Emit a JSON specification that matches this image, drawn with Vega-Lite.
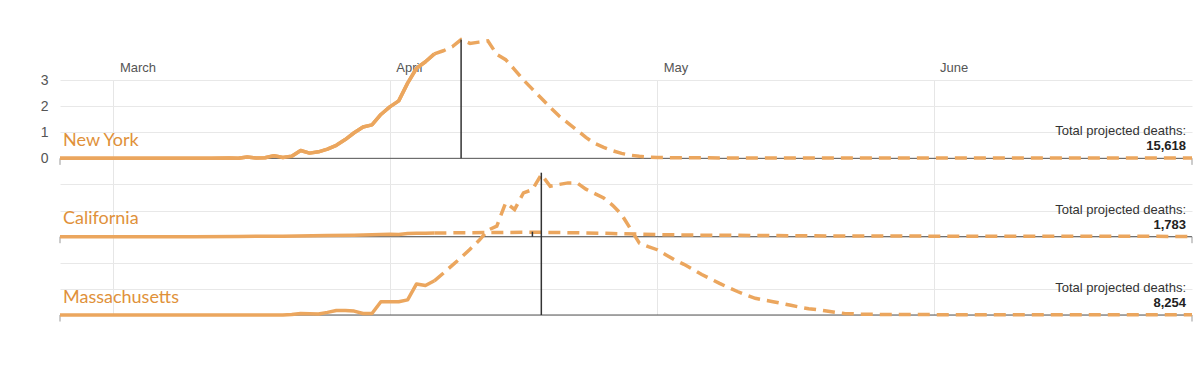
{
  "$schema": "https://vega.github.io/schema/vega-lite/v6.json",
  "width": 1132,
  "height": 235,
  "autosize": {"type": "none"},
  "padding": {"left": 60, "top": 80, "right": 8, "bottom": 54},
  "background": "white",
  "config": {"view": {"stroke": null}, "font": "Liberation Sans"},
  "datasets": {
    "series": [
      {"state": "NY", "kind": "actual", "date": "2020-02-24", "value": 0},
      {"state": "NY", "kind": "actual", "date": "2020-03-05", "value": 0},
      {"state": "NY", "kind": "actual", "date": "2020-03-12", "value": 0},
      {"state": "NY", "kind": "actual", "date": "2020-03-14", "value": 0.01},
      {"state": "NY", "kind": "actual", "date": "2020-03-15", "value": 0},
      {"state": "NY", "kind": "actual", "date": "2020-03-16", "value": 0.05},
      {"state": "NY", "kind": "actual", "date": "2020-03-17", "value": 0.01},
      {"state": "NY", "kind": "actual", "date": "2020-03-18", "value": 0.02},
      {"state": "NY", "kind": "actual", "date": "2020-03-19", "value": 0.1},
      {"state": "NY", "kind": "actual", "date": "2020-03-20", "value": 0.03},
      {"state": "NY", "kind": "actual", "date": "2020-03-21", "value": 0.08},
      {"state": "NY", "kind": "actual", "date": "2020-03-22", "value": 0.3},
      {"state": "NY", "kind": "actual", "date": "2020-03-23", "value": 0.2},
      {"state": "NY", "kind": "actual", "date": "2020-03-24", "value": 0.25},
      {"state": "NY", "kind": "actual", "date": "2020-03-25", "value": 0.35},
      {"state": "NY", "kind": "actual", "date": "2020-03-26", "value": 0.5},
      {"state": "NY", "kind": "actual", "date": "2020-03-27", "value": 0.72},
      {"state": "NY", "kind": "actual", "date": "2020-03-28", "value": 0.98},
      {"state": "NY", "kind": "actual", "date": "2020-03-29", "value": 1.2},
      {"state": "NY", "kind": "actual", "date": "2020-03-30", "value": 1.28},
      {"state": "NY", "kind": "actual", "date": "2020-03-31", "value": 1.68},
      {"state": "NY", "kind": "actual", "date": "2020-04-01", "value": 1.97},
      {"state": "NY", "kind": "actual", "date": "2020-04-02", "value": 2.2},
      {"state": "NY", "kind": "actual", "date": "2020-04-03", "value": 2.88},
      {"state": "NY", "kind": "actual", "date": "2020-04-04", "value": 3.45},
      {"state": "NY", "kind": "actual", "date": "2020-04-05", "value": 3.7},
      {"state": "NY", "kind": "actual", "date": "2020-04-06", "value": 4.0},
      {"state": "NY", "kind": "projected", "date": "2020-04-06", "value": 4.0},
      {"state": "NY", "kind": "projected", "date": "2020-04-07", "value": 4.12},
      {"state": "NY", "kind": "projected", "date": "2020-04-08", "value": 4.27},
      {"state": "NY", "kind": "projected", "date": "2020-04-09", "value": 4.55},
      {"state": "NY", "kind": "projected", "date": "2020-04-10", "value": 4.4},
      {"state": "NY", "kind": "projected", "date": "2020-04-11", "value": 4.45},
      {"state": "NY", "kind": "projected", "date": "2020-04-12", "value": 4.5},
      {"state": "NY", "kind": "projected", "date": "2020-04-13", "value": 3.98},
      {"state": "NY", "kind": "projected", "date": "2020-04-14", "value": 3.78},
      {"state": "NY", "kind": "projected", "date": "2020-04-15", "value": 3.4},
      {"state": "NY", "kind": "projected", "date": "2020-04-16", "value": 3.0},
      {"state": "NY", "kind": "projected", "date": "2020-04-17", "value": 2.65},
      {"state": "NY", "kind": "projected", "date": "2020-04-18", "value": 2.3},
      {"state": "NY", "kind": "projected", "date": "2020-04-19", "value": 1.95},
      {"state": "NY", "kind": "projected", "date": "2020-04-20", "value": 1.62},
      {"state": "NY", "kind": "projected", "date": "2020-04-21", "value": 1.35},
      {"state": "NY", "kind": "projected", "date": "2020-04-22", "value": 1.08},
      {"state": "NY", "kind": "projected", "date": "2020-04-23", "value": 0.8},
      {"state": "NY", "kind": "projected", "date": "2020-04-24", "value": 0.57},
      {"state": "NY", "kind": "projected", "date": "2020-04-25", "value": 0.42},
      {"state": "NY", "kind": "projected", "date": "2020-04-26", "value": 0.29},
      {"state": "NY", "kind": "projected", "date": "2020-04-27", "value": 0.19},
      {"state": "NY", "kind": "projected", "date": "2020-04-28", "value": 0.12},
      {"state": "NY", "kind": "projected", "date": "2020-04-29", "value": 0.08},
      {"state": "NY", "kind": "projected", "date": "2020-04-30", "value": 0.05},
      {"state": "NY", "kind": "projected", "date": "2020-05-01", "value": 0.03},
      {"state": "NY", "kind": "projected", "date": "2020-05-05", "value": 0.02},
      {"state": "NY", "kind": "projected", "date": "2020-05-15", "value": 0.01},
      {"state": "NY", "kind": "projected", "date": "2020-06-01", "value": 0.01},
      {"state": "NY", "kind": "projected", "date": "2020-06-30", "value": 0.01},
      {"state": "CA", "kind": "actual", "date": "2020-02-24", "value": 0},
      {"state": "CA", "kind": "actual", "date": "2020-03-10", "value": 0},
      {"state": "CA", "kind": "actual", "date": "2020-03-15", "value": 0.01},
      {"state": "CA", "kind": "actual", "date": "2020-03-20", "value": 0.02},
      {"state": "CA", "kind": "actual", "date": "2020-03-25", "value": 0.04},
      {"state": "CA", "kind": "actual", "date": "2020-03-28", "value": 0.05},
      {"state": "CA", "kind": "actual", "date": "2020-03-31", "value": 0.08},
      {"state": "CA", "kind": "actual", "date": "2020-04-01", "value": 0.09},
      {"state": "CA", "kind": "actual", "date": "2020-04-02", "value": 0.08},
      {"state": "CA", "kind": "actual", "date": "2020-04-03", "value": 0.12},
      {"state": "CA", "kind": "actual", "date": "2020-04-04", "value": 0.13},
      {"state": "CA", "kind": "actual", "date": "2020-04-05", "value": 0.13},
      {"state": "CA", "kind": "actual", "date": "2020-04-06", "value": 0.14},
      {"state": "CA", "kind": "projected", "date": "2020-04-06", "value": 0.14},
      {"state": "CA", "kind": "projected", "date": "2020-04-09", "value": 0.15},
      {"state": "CA", "kind": "projected", "date": "2020-04-13", "value": 0.16},
      {"state": "CA", "kind": "projected", "date": "2020-04-17", "value": 0.17},
      {"state": "CA", "kind": "projected", "date": "2020-04-22", "value": 0.15},
      {"state": "CA", "kind": "projected", "date": "2020-04-26", "value": 0.12},
      {"state": "CA", "kind": "projected", "date": "2020-05-01", "value": 0.08},
      {"state": "CA", "kind": "projected", "date": "2020-05-05", "value": 0.06},
      {"state": "CA", "kind": "projected", "date": "2020-05-10", "value": 0.05},
      {"state": "CA", "kind": "projected", "date": "2020-05-20", "value": 0.03},
      {"state": "CA", "kind": "projected", "date": "2020-06-01", "value": 0.02},
      {"state": "CA", "kind": "projected", "date": "2020-06-30", "value": 0.01},
      {"state": "MA", "kind": "actual", "date": "2020-02-24", "value": 0},
      {"state": "MA", "kind": "actual", "date": "2020-03-10", "value": 0},
      {"state": "MA", "kind": "actual", "date": "2020-03-20", "value": 0},
      {"state": "MA", "kind": "actual", "date": "2020-03-21", "value": 0.02},
      {"state": "MA", "kind": "actual", "date": "2020-03-22", "value": 0.06},
      {"state": "MA", "kind": "actual", "date": "2020-03-23", "value": 0.05},
      {"state": "MA", "kind": "actual", "date": "2020-03-24", "value": 0.04},
      {"state": "MA", "kind": "actual", "date": "2020-03-25", "value": 0.1},
      {"state": "MA", "kind": "actual", "date": "2020-03-26", "value": 0.17},
      {"state": "MA", "kind": "actual", "date": "2020-03-27", "value": 0.17},
      {"state": "MA", "kind": "actual", "date": "2020-03-28", "value": 0.15},
      {"state": "MA", "kind": "actual", "date": "2020-03-29", "value": 0.06},
      {"state": "MA", "kind": "actual", "date": "2020-03-30", "value": 0.06},
      {"state": "MA", "kind": "actual", "date": "2020-03-31", "value": 0.51},
      {"state": "MA", "kind": "actual", "date": "2020-04-01", "value": 0.51},
      {"state": "MA", "kind": "actual", "date": "2020-04-02", "value": 0.51},
      {"state": "MA", "kind": "actual", "date": "2020-04-03", "value": 0.58},
      {"state": "MA", "kind": "actual", "date": "2020-04-04", "value": 1.19},
      {"state": "MA", "kind": "actual", "date": "2020-04-05", "value": 1.13},
      {"state": "MA", "kind": "actual", "date": "2020-04-06", "value": 1.31},
      {"state": "MA", "kind": "projected", "date": "2020-04-06", "value": 1.31},
      {"state": "MA", "kind": "projected", "date": "2020-04-07", "value": 1.6},
      {"state": "MA", "kind": "projected", "date": "2020-04-08", "value": 1.9},
      {"state": "MA", "kind": "projected", "date": "2020-04-09", "value": 2.2},
      {"state": "MA", "kind": "projected", "date": "2020-04-10", "value": 2.52},
      {"state": "MA", "kind": "projected", "date": "2020-04-11", "value": 2.85},
      {"state": "MA", "kind": "projected", "date": "2020-04-12", "value": 3.25},
      {"state": "MA", "kind": "projected", "date": "2020-04-13", "value": 3.4},
      {"state": "MA", "kind": "projected", "date": "2020-04-14", "value": 4.3},
      {"state": "MA", "kind": "projected", "date": "2020-04-15", "value": 4.04},
      {"state": "MA", "kind": "projected", "date": "2020-04-16", "value": 4.68},
      {"state": "MA", "kind": "projected", "date": "2020-04-17", "value": 4.8},
      {"state": "MA", "kind": "projected", "date": "2020-04-18", "value": 5.38},
      {"state": "MA", "kind": "projected", "date": "2020-04-19", "value": 4.93},
      {"state": "MA", "kind": "projected", "date": "2020-04-20", "value": 5.0},
      {"state": "MA", "kind": "projected", "date": "2020-04-21", "value": 5.06},
      {"state": "MA", "kind": "projected", "date": "2020-04-22", "value": 5.06},
      {"state": "MA", "kind": "projected", "date": "2020-04-23", "value": 4.82},
      {"state": "MA", "kind": "projected", "date": "2020-04-24", "value": 4.65},
      {"state": "MA", "kind": "projected", "date": "2020-04-25", "value": 4.48},
      {"state": "MA", "kind": "projected", "date": "2020-04-26", "value": 4.2},
      {"state": "MA", "kind": "projected", "date": "2020-04-27", "value": 3.85},
      {"state": "MA", "kind": "projected", "date": "2020-04-28", "value": 3.3},
      {"state": "MA", "kind": "projected", "date": "2020-04-29", "value": 2.75},
      {"state": "MA", "kind": "projected", "date": "2020-04-30", "value": 2.62},
      {"state": "MA", "kind": "projected", "date": "2020-05-01", "value": 2.5},
      {"state": "MA", "kind": "projected", "date": "2020-05-02", "value": 2.3},
      {"state": "MA", "kind": "projected", "date": "2020-05-03", "value": 2.1},
      {"state": "MA", "kind": "projected", "date": "2020-05-04", "value": 1.94},
      {"state": "MA", "kind": "projected", "date": "2020-05-05", "value": 1.75},
      {"state": "MA", "kind": "projected", "date": "2020-05-06", "value": 1.55},
      {"state": "MA", "kind": "projected", "date": "2020-05-07", "value": 1.38},
      {"state": "MA", "kind": "projected", "date": "2020-05-08", "value": 1.21},
      {"state": "MA", "kind": "projected", "date": "2020-05-09", "value": 1.05},
      {"state": "MA", "kind": "projected", "date": "2020-05-10", "value": 0.9},
      {"state": "MA", "kind": "projected", "date": "2020-05-11", "value": 0.76},
      {"state": "MA", "kind": "projected", "date": "2020-05-12", "value": 0.64},
      {"state": "MA", "kind": "projected", "date": "2020-05-13", "value": 0.57},
      {"state": "MA", "kind": "projected", "date": "2020-05-14", "value": 0.51},
      {"state": "MA", "kind": "projected", "date": "2020-05-15", "value": 0.44},
      {"state": "MA", "kind": "projected", "date": "2020-05-16", "value": 0.37},
      {"state": "MA", "kind": "projected", "date": "2020-05-17", "value": 0.3},
      {"state": "MA", "kind": "projected", "date": "2020-05-18", "value": 0.24},
      {"state": "MA", "kind": "projected", "date": "2020-05-19", "value": 0.2},
      {"state": "MA", "kind": "projected", "date": "2020-05-20", "value": 0.15},
      {"state": "MA", "kind": "projected", "date": "2020-05-21", "value": 0.1},
      {"state": "MA", "kind": "projected", "date": "2020-05-22", "value": 0.06},
      {"state": "MA", "kind": "projected", "date": "2020-05-24", "value": 0.03},
      {"state": "MA", "kind": "projected", "date": "2020-05-27", "value": 0.02},
      {"state": "MA", "kind": "projected", "date": "2020-06-05", "value": 0.01},
      {"state": "MA", "kind": "projected", "date": "2020-06-30", "value": 0.01}
    ],
    "peaks": [
      {"state": "NY", "date": "2020-04-09", "value": 4.55},
      {"state": "CA", "date": "2020-04-17", "value": 0.19},
      {"state": "MA", "date": "2020-04-18", "value": 5.45}
    ],
    "labels": [
      {"state": "NY", "name": "New York", "total": "15,618"},
      {"state": "CA", "name": "California", "total": "1,783"},
      {"state": "MA", "name": "Massachusetts", "total": "8,254"}
    ],
    "ends": [
      {"date": "2020-02-24"},
      {"date": "2020-06-30"}
    ]
  },
  "resolve": {"scale": {"y": "independent"}, "axis": {"x": "independent", "y": "independent"}},
  "layer": [
    {
      "resolve": {"axis": {"x": "independent", "y": "independent"}},
      "layer": [
        {
          "data": {"name": "series"},
          "transform": [{"filter": "datum.state === 'NY' && datum.kind === 'actual'"}],
          "mark": {"type": "line", "color": "#EBA65E", "strokeWidth": 3.5, "strokeJoin": "round"},
          "encoding": {
            "x": {"field": "date", "type": "temporal",
              "scale": {"type": "utc", "domain": [{"year": 2020, "month": 2, "date": 24, "utc": true}, {"year": 2020, "month": 6, "date": 30, "utc": true}]},
              "axis": {"orient": "top", "title": null, "format": "%B",
                "values": [{"year": 2020, "month": 3, "date": 1, "utc": true}, {"year": 2020, "month": 4, "date": 1, "utc": true}, {"year": 2020, "month": 5, "date": 1, "utc": true}, {"year": 2020, "month": 6, "date": 1, "utc": true}],
                "grid": true, "gridColor": "#e6e6e6", "domain": false, "ticks": false,
                "labelAlign": "left", "labelOffset": 6, "labelPadding": 6,
                "labelFont": "Liberation Sans", "labelFontSize": 13, "labelColor": "#555555"}},
            "y": {"field": "value", "type": "quantitative",
              "scale": {"domain": [-6, 3], "nice": false, "zero": false},
              "axis": {"orient": "left", "title": null, "values": [-6, -5, -4, -3, -2, -1, 0, 1, 2, 3],
                "labelExpr": "datum.value >= 0 ? datum.label : ''", "labelOverlap": false, "labelBound": false,
                "grid": true, "gridColor": "#e8e8e8", "gridOpacity": 1, "domain": false, "ticks": false,
                "labelPadding": 12, "labelFont": "Liberation Sans", "labelFontSize": 14, "labelColor": "#555555"}}
          }
        },
        {
          "data": {"values": [{}]},
          "mark": {"type": "rule", "color": "#555555", "strokeWidth": 1},
          "encoding": {"y": {"datum": 0, "type": "quantitative", "scale": {"domain": [-6, 3], "nice": false, "zero": false}, "axis": null}}
        },
        {
          "data": {"name": "ends"},
          "mark": {"type": "rule", "color": "#999999", "strokeWidth": 1},
          "encoding": {
            "x": {"field": "date", "type": "temporal", "scale": {"type": "utc", "domain": [{"year": 2020, "month": 2, "date": 24, "utc": true}, {"year": 2020, "month": 6, "date": 30, "utc": true}]}, "axis": null},
            "y": {"datum": 0, "type": "quantitative", "scale": {"domain": [-6, 3], "nice": false, "zero": false}, "axis": null},
            "y2": {"datum": -0.25}
          }
        },
        {
          "data": {"name": "series"},
          "transform": [{"filter": "datum.state === 'NY' && datum.kind === 'actual'"}],
          "mark": {"type": "line", "color": "#EBA65E", "strokeWidth": 3.5, "strokeJoin": "round"},
          "encoding": {
            "x": {"field": "date", "type": "temporal", "scale": {"type": "utc", "domain": [{"year": 2020, "month": 2, "date": 24, "utc": true}, {"year": 2020, "month": 6, "date": 30, "utc": true}]}, "axis": null},
            "y": {"field": "value", "type": "quantitative", "scale": {"domain": [-6, 3], "nice": false, "zero": false}, "axis": null}
          }
        },
        {
          "data": {"name": "series"},
          "transform": [{"filter": "datum.state === 'NY' && datum.kind === 'projected'"}],
          "mark": {"type": "line", "color": "#EBA65E", "strokeWidth": 3.5, "strokeDash": [12, 7]},
          "encoding": {
            "x": {"field": "date", "type": "temporal", "scale": {"type": "utc", "domain": [{"year": 2020, "month": 2, "date": 24, "utc": true}, {"year": 2020, "month": 6, "date": 30, "utc": true}]}, "axis": null},
            "y": {"field": "value", "type": "quantitative", "scale": {"domain": [-6, 3], "nice": false, "zero": false}, "axis": null}
          }
        },
        {
          "data": {"name": "peaks"},
          "transform": [{"filter": "datum.state === 'NY'"}],
          "mark": {"type": "rule", "color": "#333333", "strokeWidth": 1.5},
          "encoding": {
            "x": {"field": "date", "type": "temporal", "scale": {"type": "utc", "domain": [{"year": 2020, "month": 2, "date": 24, "utc": true}, {"year": 2020, "month": 6, "date": 30, "utc": true}]}, "axis": null},
            "y": {"field": "value", "type": "quantitative", "scale": {"domain": [-6, 3], "nice": false, "zero": false}, "axis": null},
            "y2": {"datum": 0}
          }
        },
        {
          "data": {"name": "labels"},
          "transform": [{"filter": "datum.state === 'NY'"}],
          "layer": [
            {
              "mark": {"type": "text", "align": "left", "baseline": "alphabetic", "dx": 3, "dy": -12, "font": "Lato", "fontSize": 18, "color": "#E0913A"},
              "encoding": {"text": {"field": "name"}}
            },
            {
              "mark": {"type": "text", "align": "right", "baseline": "alphabetic", "dx": -6, "dy": -23, "font": "Liberation Sans", "fontSize": 13, "color": "#333333", "text": "Total projected deaths:"},
              "encoding": {
                "x": {"datum": {"year": 2020, "month": 6, "date": 30, "utc": true}, "type": "temporal", "scale": {"type": "utc", "domain": [{"year": 2020, "month": 2, "date": 24, "utc": true}, {"year": 2020, "month": 6, "date": 30, "utc": true}]}, "axis": null}
              }
            },
            {
              "mark": {"type": "text", "align": "right", "baseline": "alphabetic", "dx": -6, "dy": -8, "font": "Liberation Sans", "fontSize": 13, "fontWeight": "bold", "color": "#222222"},
              "encoding": {
                "x": {"datum": {"year": 2020, "month": 6, "date": 30, "utc": true}, "type": "temporal", "scale": {"type": "utc", "domain": [{"year": 2020, "month": 2, "date": 24, "utc": true}, {"year": 2020, "month": 6, "date": 30, "utc": true}]}, "axis": null},
                "text": {"field": "total"}
              }
            }
          ],
          "encoding": {
            "x": {"datum": {"year": 2020, "month": 2, "date": 24, "utc": true}, "type": "temporal", "scale": {"type": "utc", "domain": [{"year": 2020, "month": 2, "date": 24, "utc": true}, {"year": 2020, "month": 6, "date": 30, "utc": true}]}, "axis": null},
            "y": {"datum": 0, "type": "quantitative", "scale": {"domain": [-6, 3], "nice": false, "zero": false}, "axis": null}
          }
        }
      ]
    },
    {
      "resolve": {"axis": {"x": "independent", "y": "independent"}},
      "layer": [
        {
          "data": {"values": [{}]},
          "mark": {"type": "rule", "color": "#555555", "strokeWidth": 1},
          "encoding": {"y": {"datum": 0, "type": "quantitative", "scale": {"domain": [-3, 6], "nice": false, "zero": false}, "axis": null}}
        },
        {
          "data": {"name": "ends"},
          "mark": {"type": "rule", "color": "#999999", "strokeWidth": 1},
          "encoding": {
            "x": {"field": "date", "type": "temporal", "scale": {"type": "utc", "domain": [{"year": 2020, "month": 2, "date": 24, "utc": true}, {"year": 2020, "month": 6, "date": 30, "utc": true}]}, "axis": null},
            "y": {"datum": 0, "type": "quantitative", "scale": {"domain": [-3, 6], "nice": false, "zero": false}, "axis": null},
            "y2": {"datum": -0.25}
          }
        },
        {
          "data": {"name": "series"},
          "transform": [{"filter": "datum.state === 'CA' && datum.kind === 'actual'"}],
          "mark": {"type": "line", "color": "#EBA65E", "strokeWidth": 3.5, "strokeJoin": "round"},
          "encoding": {
            "x": {"field": "date", "type": "temporal", "scale": {"type": "utc", "domain": [{"year": 2020, "month": 2, "date": 24, "utc": true}, {"year": 2020, "month": 6, "date": 30, "utc": true}]}, "axis": null},
            "y": {"field": "value", "type": "quantitative", "scale": {"domain": [-3, 6], "nice": false, "zero": false}, "axis": null}
          }
        },
        {
          "data": {"name": "series"},
          "transform": [{"filter": "datum.state === 'CA' && datum.kind === 'projected'"}],
          "mark": {"type": "line", "color": "#EBA65E", "strokeWidth": 3.5, "strokeDash": [12, 7]},
          "encoding": {
            "x": {"field": "date", "type": "temporal", "scale": {"type": "utc", "domain": [{"year": 2020, "month": 2, "date": 24, "utc": true}, {"year": 2020, "month": 6, "date": 30, "utc": true}]}, "axis": null},
            "y": {"field": "value", "type": "quantitative", "scale": {"domain": [-3, 6], "nice": false, "zero": false}, "axis": null}
          }
        },
        {
          "data": {"name": "peaks"},
          "transform": [{"filter": "datum.state === 'CA'"}],
          "mark": {"type": "rule", "color": "#333333", "strokeWidth": 1.5},
          "encoding": {
            "x": {"field": "date", "type": "temporal", "scale": {"type": "utc", "domain": [{"year": 2020, "month": 2, "date": 24, "utc": true}, {"year": 2020, "month": 6, "date": 30, "utc": true}]}, "axis": null},
            "y": {"field": "value", "type": "quantitative", "scale": {"domain": [-3, 6], "nice": false, "zero": false}, "axis": null},
            "y2": {"datum": 0}
          }
        },
        {
          "data": {"name": "labels"},
          "transform": [{"filter": "datum.state === 'CA'"}],
          "layer": [
            {
              "mark": {"type": "text", "align": "left", "baseline": "alphabetic", "dx": 3, "dy": -13, "font": "Lato", "fontSize": 18, "color": "#E0913A"},
              "encoding": {"text": {"field": "name"}}
            },
            {
              "mark": {"type": "text", "align": "right", "baseline": "alphabetic", "dx": -6, "dy": -23, "font": "Liberation Sans", "fontSize": 13, "color": "#333333", "text": "Total projected deaths:"},
              "encoding": {
                "x": {"datum": {"year": 2020, "month": 6, "date": 30, "utc": true}, "type": "temporal", "scale": {"type": "utc", "domain": [{"year": 2020, "month": 2, "date": 24, "utc": true}, {"year": 2020, "month": 6, "date": 30, "utc": true}]}, "axis": null}
              }
            },
            {
              "mark": {"type": "text", "align": "right", "baseline": "alphabetic", "dx": -6, "dy": -8, "font": "Liberation Sans", "fontSize": 13, "fontWeight": "bold", "color": "#222222"},
              "encoding": {
                "x": {"datum": {"year": 2020, "month": 6, "date": 30, "utc": true}, "type": "temporal", "scale": {"type": "utc", "domain": [{"year": 2020, "month": 2, "date": 24, "utc": true}, {"year": 2020, "month": 6, "date": 30, "utc": true}]}, "axis": null},
                "text": {"field": "total"}
              }
            }
          ],
          "encoding": {
            "x": {"datum": {"year": 2020, "month": 2, "date": 24, "utc": true}, "type": "temporal", "scale": {"type": "utc", "domain": [{"year": 2020, "month": 2, "date": 24, "utc": true}, {"year": 2020, "month": 6, "date": 30, "utc": true}]}, "axis": null},
            "y": {"datum": 0, "type": "quantitative", "scale": {"domain": [-3, 6], "nice": false, "zero": false}, "axis": null}
          }
        }
      ]
    },
    {
      "resolve": {"axis": {"x": "independent", "y": "independent"}},
      "layer": [
        {
          "data": {"values": [{}]},
          "mark": {"type": "rule", "color": "#555555", "strokeWidth": 1},
          "encoding": {"y": {"datum": 0, "type": "quantitative", "scale": {"domain": [0, 9], "nice": false, "zero": false}, "axis": null}}
        },
        {
          "data": {"name": "ends"},
          "mark": {"type": "rule", "color": "#999999", "strokeWidth": 1},
          "encoding": {
            "x": {"field": "date", "type": "temporal", "scale": {"type": "utc", "domain": [{"year": 2020, "month": 2, "date": 24, "utc": true}, {"year": 2020, "month": 6, "date": 30, "utc": true}]}, "axis": null},
            "y": {"datum": 0, "type": "quantitative", "scale": {"domain": [0, 9], "nice": false, "zero": false}, "axis": null},
            "y2": {"datum": -0.25}
          }
        },
        {
          "data": {"name": "series"},
          "transform": [{"filter": "datum.state === 'MA' && datum.kind === 'actual'"}],
          "mark": {"type": "line", "color": "#EBA65E", "strokeWidth": 3.5, "strokeJoin": "round"},
          "encoding": {
            "x": {"field": "date", "type": "temporal", "scale": {"type": "utc", "domain": [{"year": 2020, "month": 2, "date": 24, "utc": true}, {"year": 2020, "month": 6, "date": 30, "utc": true}]}, "axis": null},
            "y": {"field": "value", "type": "quantitative", "scale": {"domain": [0, 9], "nice": false, "zero": false}, "axis": null}
          }
        },
        {
          "data": {"name": "series"},
          "transform": [{"filter": "datum.state === 'MA' && datum.kind === 'projected'"}],
          "mark": {"type": "line", "color": "#EBA65E", "strokeWidth": 3.5, "strokeDash": [12, 7]},
          "encoding": {
            "x": {"field": "date", "type": "temporal", "scale": {"type": "utc", "domain": [{"year": 2020, "month": 2, "date": 24, "utc": true}, {"year": 2020, "month": 6, "date": 30, "utc": true}]}, "axis": null},
            "y": {"field": "value", "type": "quantitative", "scale": {"domain": [0, 9], "nice": false, "zero": false}, "axis": null}
          }
        },
        {
          "data": {"name": "peaks"},
          "transform": [{"filter": "datum.state === 'MA'"}],
          "mark": {"type": "rule", "color": "#333333", "strokeWidth": 1.5},
          "encoding": {
            "x": {"field": "date", "type": "temporal", "scale": {"type": "utc", "domain": [{"year": 2020, "month": 2, "date": 24, "utc": true}, {"year": 2020, "month": 6, "date": 30, "utc": true}]}, "axis": null},
            "y": {"field": "value", "type": "quantitative", "scale": {"domain": [0, 9], "nice": false, "zero": false}, "axis": null},
            "y2": {"datum": 0}
          }
        },
        {
          "data": {"name": "labels"},
          "transform": [{"filter": "datum.state === 'MA'"}],
          "layer": [
            {
              "mark": {"type": "text", "align": "left", "baseline": "alphabetic", "dx": 3, "dy": -12, "font": "Lato", "fontSize": 18, "color": "#E0913A"},
              "encoding": {"text": {"field": "name"}}
            },
            {
              "mark": {"type": "text", "align": "right", "baseline": "alphabetic", "dx": -6, "dy": -23, "font": "Liberation Sans", "fontSize": 13, "color": "#333333", "text": "Total projected deaths:"},
              "encoding": {
                "x": {"datum": {"year": 2020, "month": 6, "date": 30, "utc": true}, "type": "temporal", "scale": {"type": "utc", "domain": [{"year": 2020, "month": 2, "date": 24, "utc": true}, {"year": 2020, "month": 6, "date": 30, "utc": true}]}, "axis": null}
              }
            },
            {
              "mark": {"type": "text", "align": "right", "baseline": "alphabetic", "dx": -6, "dy": -8, "font": "Liberation Sans", "fontSize": 13, "fontWeight": "bold", "color": "#222222"},
              "encoding": {
                "x": {"datum": {"year": 2020, "month": 6, "date": 30, "utc": true}, "type": "temporal", "scale": {"type": "utc", "domain": [{"year": 2020, "month": 2, "date": 24, "utc": true}, {"year": 2020, "month": 6, "date": 30, "utc": true}]}, "axis": null},
                "text": {"field": "total"}
              }
            }
          ],
          "encoding": {
            "x": {"datum": {"year": 2020, "month": 2, "date": 24, "utc": true}, "type": "temporal", "scale": {"type": "utc", "domain": [{"year": 2020, "month": 2, "date": 24, "utc": true}, {"year": 2020, "month": 6, "date": 30, "utc": true}]}, "axis": null},
            "y": {"datum": 0, "type": "quantitative", "scale": {"domain": [0, 9], "nice": false, "zero": false}, "axis": null}
          }
        }
      ]
    }
  ]
}
